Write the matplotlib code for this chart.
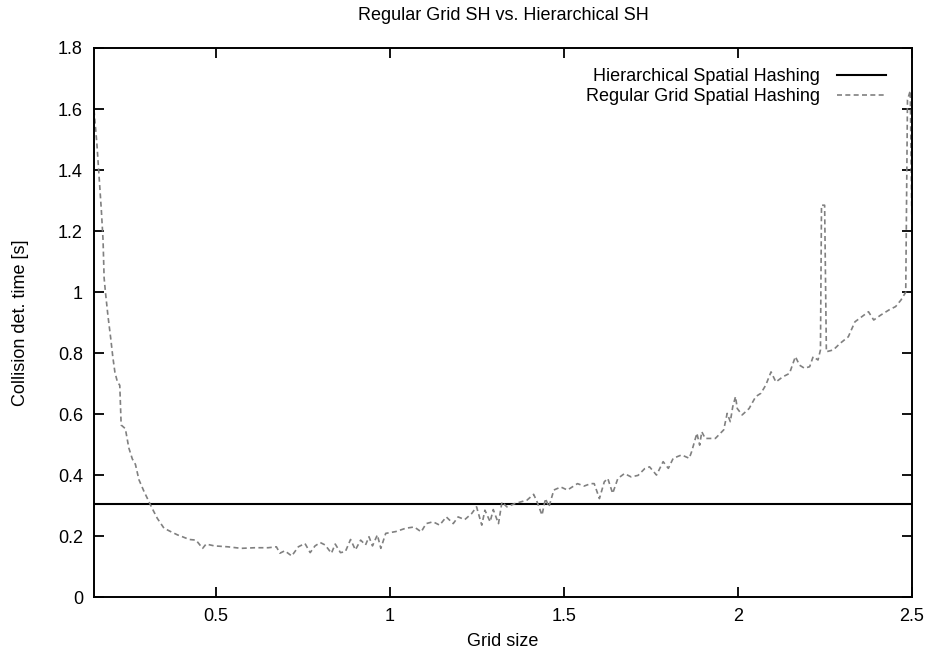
import matplotlib
matplotlib.use("Agg")
import matplotlib.pyplot as plt
from matplotlib.ticker import FormatStrFormatter

# grid size vs. collision detection time
grid_size = [
    0.150, 0.158, 0.164, 0.171, 0.176, 0.179, 0.183, 0.190, 0.198, 0.204,
    0.210, 0.217, 0.224, 0.228, 0.240, 0.250, 0.260, 0.269, 0.279, 0.293,
    0.303, 0.317, 0.332, 0.351, 0.370, 0.390, 0.404, 0.424, 0.443, 0.462,
    0.472, 0.496, 0.535, 0.573, 0.612, 0.650, 0.674, 0.684, 0.698, 0.718,
    0.737, 0.756, 0.771, 0.785, 0.800, 0.814, 0.832, 0.843, 0.858, 0.872,
    0.887, 0.901, 0.916, 0.930, 0.940, 0.950, 0.964, 0.974, 0.988, 1.017,
    1.046, 1.070, 1.090, 1.104, 1.124, 1.143, 1.162, 1.182, 1.196, 1.215,
    1.235, 1.249, 1.264, 1.273, 1.288, 1.297, 1.312, 1.322, 1.336, 1.360,
    1.375, 1.394, 1.413, 1.423, 1.437, 1.447, 1.457, 1.471, 1.491, 1.510,
    1.524, 1.539, 1.558, 1.577, 1.587, 1.602, 1.616, 1.626, 1.640, 1.655,
    1.674, 1.693, 1.713, 1.732, 1.746, 1.766, 1.785, 1.800, 1.814, 1.838,
    1.860, 1.867, 1.882, 1.890, 1.896, 1.906, 1.935, 1.959, 1.969, 1.978,
    1.985, 1.993, 1.998, 2.012, 2.032, 2.051, 2.066, 2.080, 2.095, 2.109,
    2.129, 2.148, 2.165, 2.177, 2.191, 2.206, 2.216, 2.230, 2.237, 2.240,
    2.249, 2.254, 2.274, 2.293, 2.317, 2.336, 2.356, 2.375, 2.390, 2.410,
    2.434, 2.453, 2.468, 2.482, 2.487, 2.495, 2.500,
]
regular_time = [
    1.596, 1.490, 1.390, 1.270, 1.170, 1.047, 0.998, 0.923, 0.849, 0.788,
    0.738, 0.707, 0.695, 0.565, 0.553, 0.490, 0.454, 0.436, 0.386, 0.349,
    0.325, 0.292, 0.259, 0.227, 0.216, 0.205, 0.199, 0.190, 0.188, 0.161,
    0.175, 0.169, 0.166, 0.161, 0.163, 0.163, 0.166, 0.145, 0.153, 0.136,
    0.166, 0.177, 0.147, 0.169, 0.180, 0.172, 0.145, 0.175, 0.147, 0.150,
    0.190, 0.156, 0.188, 0.172, 0.199, 0.169, 0.205, 0.161, 0.210, 0.216,
    0.227, 0.231, 0.215, 0.242, 0.248, 0.237, 0.264, 0.242, 0.264, 0.255,
    0.275, 0.297, 0.237, 0.286, 0.248, 0.288, 0.242, 0.313, 0.297, 0.308,
    0.313, 0.319, 0.338, 0.313, 0.270, 0.324, 0.297, 0.352, 0.362, 0.352,
    0.362, 0.373, 0.365, 0.373, 0.373, 0.324, 0.379, 0.390, 0.341, 0.390,
    0.406, 0.395, 0.400, 0.422, 0.428, 0.401, 0.445, 0.423, 0.456, 0.467,
    0.456, 0.478, 0.538, 0.499, 0.543, 0.521, 0.521, 0.549, 0.603, 0.576,
    0.625, 0.658, 0.619, 0.598, 0.619, 0.658, 0.669, 0.696, 0.739, 0.706,
    0.723, 0.734, 0.789, 0.761, 0.751, 0.756, 0.789, 0.778, 0.811, 1.285,
    1.285, 0.805, 0.811, 0.832, 0.854, 0.903, 0.920, 0.936, 0.909, 0.925,
    0.942, 0.953, 0.974, 1.000, 1.630, 1.660, 1.200,
]
hierarchical_time = 0.305

plt.rcParams['font.family'] = ['Liberation Sans', 'DejaVu Sans']
plt.rcParams['font.size'] = 13

fig = plt.figure(figsize=(9.29, 6.53), dpi=100)
ax = fig.add_axes([0.1012, 0.085, 0.8805, 0.8415])

ax.axhline(hierarchical_time, color='black', lw=1.5, label='Hierarchical Spatial Hashing')
ax.plot(grid_size, regular_time, color='#808080', lw=1.2, dashes=(3, 2),
        label='Regular Grid Spatial Hashing')

ax.set_xlim(0.15, 2.5)
ax.set_ylim(0, 1.8)
ax.set_xticks([0.5, 1, 1.5, 2, 2.5])
ax.set_yticks([0, 0.2, 0.4, 0.6, 0.8, 1, 1.2, 1.4, 1.6, 1.8])
ax.xaxis.set_major_formatter(FormatStrFormatter('%g'))
ax.yaxis.set_major_formatter(FormatStrFormatter('%g'))
ax.tick_params(direction='in', length=7, width=1.3, top=True, right=True)
ax.tick_params(axis='y', pad=8)
ax.tick_params(axis='x', pad=7.5)
for s in ax.spines.values():
    s.set_linewidth(1.4)

ax.set_title('Regular Grid SH vs. Hierarchical SH', fontsize=13, pad=20)
ax.set_xlabel('Grid size')
ax.set_ylabel('Collision det. time [s]')
ax.xaxis.set_label_coords(0.5, -0.0646)
ax.yaxis.set_label_coords(-0.079, 0.5)

ax.legend(loc='upper right', bbox_to_anchor=(0.968, 0.9636), frameon=False,
          markerfirst=False, borderpad=0, borderaxespad=0, handlelength=2.7,
          handletextpad=0.95, labelspacing=0.17)

fig.savefig('out.png', dpi=100)
